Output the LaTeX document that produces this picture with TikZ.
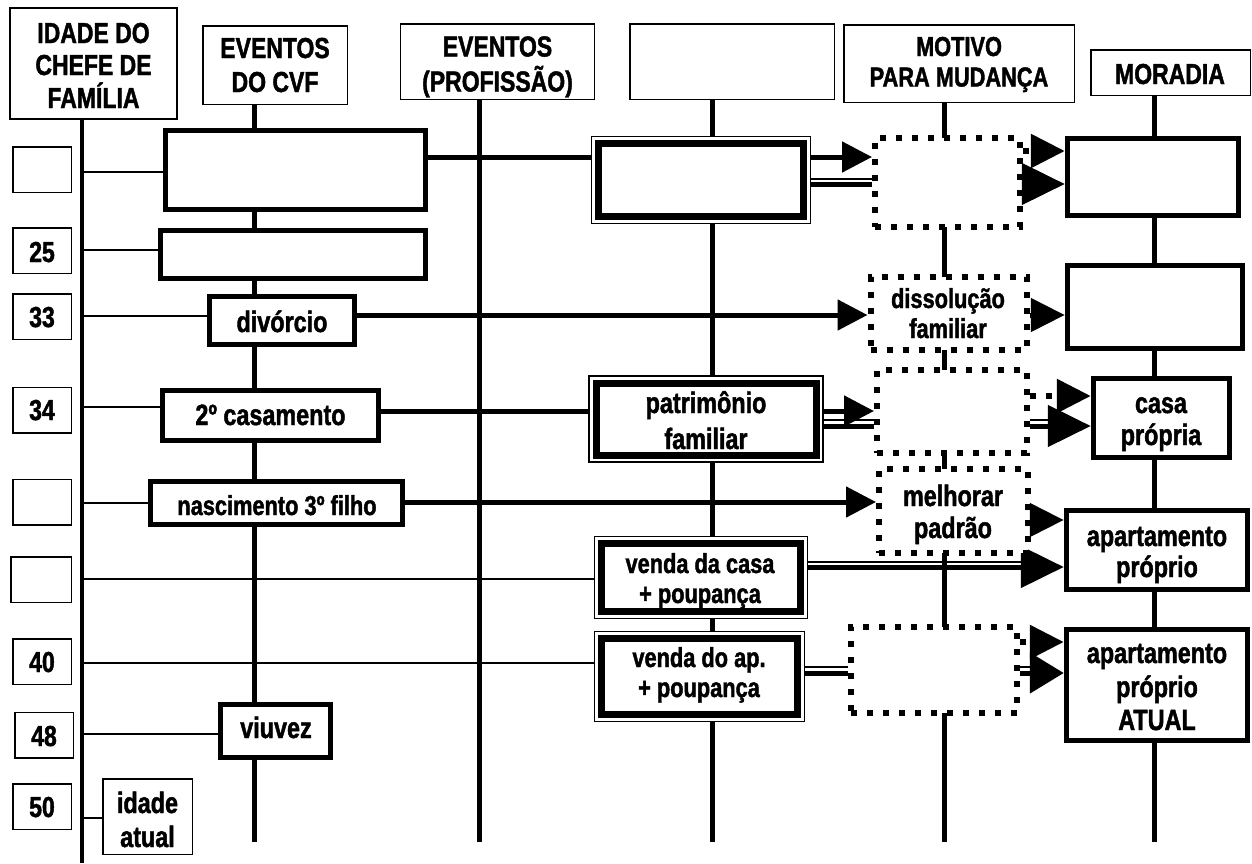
\documentclass[tikz,border=0pt]{standalone}
\usepackage{fontspec}
\newfontfamily\nar{Liberation Sans}[FakeStretch=0.795, BoldFeatures={FakeBold=1.5}]
\usetikzlibrary{arrows.meta,backgrounds,calc}
\newcommand\tfbig{\nar\bfseries\fontsize{29.4}{33}\selectfont}
\newcommand\tfhd{\nar\bfseries\fontsize{28.9}{33}\selectfont}
\newcommand\tfsml{\nar\bfseries\fontsize{27.4}{31}\selectfont}
\begin{document}
\begin{tikzpicture}[x=1pt,y=-1pt,
  hdbox/.style={draw, line width=1.5pt, fill=white, inner sep=0pt},
  agebox/.style={draw, line width=1.5pt, fill=white, inner sep=0pt, minimum width=58.5pt, minimum height=45.5pt},
  evbox/.style={draw, line width=5pt, fill=white, inner sep=0pt},
  finouter/.style={draw, line width=1.2pt, fill=white, inner sep=0pt},
  fininner/.style={draw, line width=7pt, fill=white, inner sep=0pt},
  motbox/.style={draw, line width=6pt, dash pattern=on 6pt off 10pt, fill=white, inner sep=0pt},
  homebox/.style={draw, line width=5.5pt, fill=white, inner sep=0pt},
  vline/.style={line width=5pt},
  thinc/.style={line width=1.3pt},
  thickc/.style={line width=5pt},
  dotc/.style={line width=6pt, dash pattern=on 6pt off 10pt},
  dblthin/.style={line width=1.2pt},
  dblthick/.style={line width=5pt},
  tipin/.style={-{Triangle[length=30pt,width=30pt]}},
  tipout/.style={-{Triangle[length=34pt,width=33pt]}},
  tipdbl/.style={-{Triangle[length=43pt,width=41pt]}},
  tipdbls/.style={-{Triangle[length=34pt,width=40pt]}},
  txt/.style={anchor=base, inner sep=0pt, font=\tfbig},
  txh/.style={anchor=base, inner sep=0pt, font=\tfhd},
  txs/.style={anchor=base, inner sep=0pt, font=\tfsml}]
\useasboundingbox (0,0) rectangle (1252,863);

% column positions and bottom ends
\coordinate (ax) at (82,0);
\coordinate (cvf) at (254,0);
\coordinate (prof) at (479,0);
\coordinate (fin) at (712,0);
\coordinate (mot) at (944,0);
\coordinate (mor) at (1154,0);
\coordinate (bot) at (0,842);
\coordinate (axbot) at (0,863);

% row levels
\coordinate (t1) at (0,172);
\coordinate (t2) at (0,250);
\coordinate (t3) at (0,316);
\coordinate (t4) at (0,407);
\coordinate (t5) at (0,503);
\coordinate (t6) at (0,579);
\coordinate (t7) at (0,663);
\coordinate (t8) at (0,734);
\coordinate (t9) at (0,818);
\coordinate (k1) at (0,157);
\coordinate (k2) at (0,315);
\coordinate (k3) at (0,411);
\coordinate (k4) at (0,502);
\coordinate (k4b) at (0,520);
\coordinate (o1) at (0,151);
\coordinate (o3) at (0,396);
\coordinate (o5) at (0,642);
\coordinate (w1) at (0,184);
\coordinate (w1t) at (0,179);
\coordinate (w3) at (0,426);
\coordinate (w3t) at (0,420);
\coordinate (w6) at (0,567);
\coordinate (w6t) at (0,562);
\coordinate (w7) at (0,673);
\coordinate (w7t) at (0,667);

% column headers
\node[hdbox, minimum width=167pt, minimum height=111pt] (h1) at (93.5,63.5) {};
\node[hdbox, minimum width=144.5pt, minimum height=78.5pt] (h2) at (275,65) {};
\node[hdbox, minimum width=194pt, minimum height=75.5pt] (h3) at (497.5,61.5) {};
\node[hdbox, minimum width=204.5pt, minimum height=75.5pt] (h4) at (732,61.5) {};
\node[hdbox, minimum width=230.5pt, minimum height=77.5pt] (h5) at (959,63.5) {};
\node[hdbox, minimum width=159.5pt, minimum height=45.5pt] (h6) at (1170.5,72.5) {};
\node[txh] (h1a) at (93.5,43) {IDADE DO};
\node[txh] (h1b) at (93.5,75) {CHEFE DE};
\node[txh] (h1c) at (93.5,108) {FAMÍLIA};
\node[txh] (h2a) at (275,58) {EVENTOS};
\node[txh] (h2b) at (275,92) {DO CVF};
\node[txh] (h3a) at (497.5,56.5) {EVENTOS};
\node[txh] (h3b) at (497.5,91.5) {(PROFISSÃO)};
\node[txs] (h5a) at (959,56) {MOTIVO};
\node[txs] (h5b) at (959,86.5) {PARA MUDANÇA};
\node[txh] (h6a) at (1170,84) {MORADIA};

% ages
\node[agebox] (a1) at (42,169.5) {};
\node[agebox] (a2) at (42,250.5) {};
\node[agebox] (a3) at (42,316.5) {};
\node[agebox] (a4) at (42,410) {};
\node[agebox] (a5) at (42,502) {};
\node[agebox, minimum width=60.5pt] (a6) at (41,579.5) {};
\node[agebox] (a7) at (42,661.5) {};
\node[agebox] (a8) at (44,735) {};
\node[agebox] (a9) at (42,806.5) {};
\node[txh] (a2t) at (42,262) {25};
\node[txh] (a3t) at (42,327) {33};
\node[txh] (a4t) at (42,420) {34};
\node[txh] (a7t) at (42,672) {40};
\node[txh] (a8t) at (44,746) {48};
\node[txh] (a9t) at (42,817) {50};
\node[hdbox, minimum width=89.5pt, minimum height=75.5pt] (ia) at (147.5,816.5) {};
\node[txt] (iaa) at (147.5,813) {idade};
\node[txt] (iab) at (147.5,847) {atual};

% family life-cycle events
\node[evbox, minimum width=260pt, minimum height=79pt] (e1) at (295.5,170) {};
\node[evbox, minimum width=265pt, minimum height=48pt] (e2) at (293,254.5) {};
\node[evbox, minimum width=145pt, minimum height=48pt] (ediv) at (282,320.5) {};
\node[evbox, minimum width=216pt, minimum height=50pt] (ecas) at (270.5,415.5) {};
\node[evbox, minimum width=252pt, minimum height=43pt] (enas) at (276.5,503) {};
\node[evbox, minimum width=110pt, minimum height=53pt] (eviu) at (275.5,731) {};
\node[txt] (edivt) at (282,332) {divórcio};
\node[txt] (ecast) at (270.5,425) {2º casamento};
\node[txs] (enast) at (277,515) {nascimento 3º filho};
\node[txt] (eviut) at (276,738) {viuvez};

% financial resources (double frames)
\node[finouter, minimum width=219pt, minimum height=87pt] (db1o) at (701,180) {};
\node[fininner, minimum width=205pt, minimum height=73pt] (db1) at (701,180) {};
\node[finouter, minimum width=234pt, minimum height=86pt] (db2o) at (706,419) {};
\node[fininner, minimum width=220pt, minimum height=72pt] (db2) at (706,419) {};
\node[finouter, minimum width=213pt, minimum height=82pt] (db3o) at (701,577.5) {};
\node[fininner, minimum width=199pt, minimum height=68pt] (db3) at (701,577.5) {};
\node[finouter, minimum width=210pt, minimum height=90pt] (db4o) at (699.5,676.5) {};
\node[fininner, minimum width=196pt, minimum height=76pt] (db4) at (699.5,676.5) {};
\node[txt] (db2a) at (706,413) {patrimônio};
\node[txt] (db2b) at (706,449) {familiar};
\node[txs] (db3a) at (700,573) {venda da casa};
\node[txs] (db3b) at (700,603) {+ poupança};
\node[txs] (db4a) at (699,667) {venda do ap.};
\node[txs] (db4b) at (699,697) {+ poupança};

% reasons for moving (dotted frames)
\node[motbox, minimum width=145pt, minimum height=89pt] (md1) at (947.5,182.5) {};
\node[motbox, minimum width=156pt, minimum height=73pt] (md2) at (948.5,313) {};
\node[motbox, minimum width=150pt, minimum height=83pt] (md3) at (952,411.5) {};
\node[motbox, minimum width=149pt, minimum height=84pt] (md4) at (953.5,511) {};
\node[motbox, minimum width=166pt, minimum height=86pt] (md5) at (934,670) {};
\node[txs] (md2a) at (948,308) {dissolução};
\node[txs] (md2b) at (948,338) {familiar};
\node[txt] (md4a) at (953,506) {melhorar};
\node[txt] (md4b) at (953,538) {padrão};

% housing
\node[homebox, minimum width=171pt, minimum height=77pt] (r1) at (1153,177) {};
\node[homebox, minimum width=175pt, minimum height=83pt] (r2) at (1155,307) {};
\node[homebox, minimum width=136pt, minimum height=79pt] (r3) at (1161.5,418) {};
\node[homebox, minimum width=181pt, minimum height=79pt] (r4) at (1157,550) {};
\node[homebox, minimum width=181pt, minimum height=111pt] (r5) at (1157,685) {};
\node[txt] (r3a) at (1161,413) {casa};
\node[txt] (r3b) at (1161,445) {própria};
\node[txt] (r4a) at (1157,546) {apartamento};
\node[txt] (r4b) at (1157,577) {próprio};
\node[txt] (r5a) at (1157,663) {apartamento};
\node[txt] (r5b) at (1157,697) {próprio};
\node[txt] (r5c) at (1157,730) {ATUAL};

\begin{pgfonlayer}{background}
\fill[white] (0,0) rectangle (1252,863);
% time lines of the columns
\draw[line width=4.5pt] (ax |- h1.center) -- (ax |- axbot);
\draw[vline] (cvf |- h2.center) -- (cvf |- bot);
\draw[vline] (prof |- h3.center) -- (prof |- bot);
\draw[vline] (fin |- h4.center) -- (fin |- bot);
\draw[vline] (mot |- h5.center) -- (mot |- bot);
\draw[vline] (mor |- h6.center) -- (mor |- bot);
% age rows
\draw[thinc] (ax |- t1) -- (e1.west |- t1);
\draw[thinc] (ax |- t2) -- (e2.west |- t2);
\draw[thinc] (ax |- t3) -- (ediv.west |- t3);
\draw[thinc] (ax |- t4) -- (ecas.west |- t4);
\draw[thinc] (ax |- t5) -- (enas.west |- t5);
\draw[thinc] (ax |- t6) -- (db3o.west |- t6);
\draw[thinc] (ax |- t7) -- (db4o.west |- t7);
\draw[thinc] (ax |- t8) -- (eviu.west |- t8);
\draw[thinc] (ax |- t9) -- (ia.west |- t9);
% events leading to a reason
\draw[thickc, tipin] (e1.east |- k1) -- (md1.west |- k1);
\draw[thickc, tipin] (ediv.east |- k2) -- (md2.west |- k2);
\draw[thickc, tipout] (md2.east |- k2) -- (r2.west |- k2);
\draw[thickc, tipin] (ecas.east |- k3) -- (md3.west |- k3);
\draw[thickc, tipin] (enas.east |- k4) -- (md4.west |- k4);
\draw[thickc, tipout] (md4.east |- k4b) -- (r4.west |- k4b);
% reasons leading to a dwelling
\draw[dotc, tipout] (md1.east |- o1) -- (r1.west |- o1);
\draw[dotc, tipout] (md3.east |- o3) -- (r3.west |- o3);
\draw[dotc, tipout] (md5.east |- o5) -- (r5.west |- o5);
% financial links (thin-thick double lines)
\draw[dblthick] (db1o.east |- w1) -- (md1.west |- w1);
\draw[dblthin] (db1o.east |- w1t) -- (md1.west |- w1t);
\draw[dblthick, tipdbl] (md1.east |- w1) -- (r1.west |- w1);
\draw[dblthin] (md1.east |- w1t) -- ($(r1.west |- w1t)+(-15,0)$);
\draw[dblthick] (db2o.east |- w3) -- (md3.west |- w3);
\draw[dblthin] (db2o.east |- w3t) -- (md3.west |- w3t);
\draw[dblthick, tipdbl] (md3.east |- w3) -- (r3.west |- w3);
\draw[dblthin] (md3.east |- w3t) -- ($(r3.west |- w3t)+(-15,0)$);
\draw[dblthick, tipdbl] (db3o.east |- w6) -- (r4.west |- w6);
\draw[dblthin] (db3o.east |- w6t) -- ($(r4.west |- w6t)+(-15,0)$);
\draw[dblthick] (db4o.east |- w7) -- (md5.west |- w7);
\draw[dblthin] (db4o.east |- w7t) -- (md5.west |- w7t);
\draw[dblthick, tipdbls] (md5.east |- w7) -- (r5.west |- w7);
\draw[dblthin] (md5.east |- w7t) -- ($(r5.west |- w7t)+(-12,0)$);
\end{pgfonlayer}
\end{tikzpicture}
\end{document}
